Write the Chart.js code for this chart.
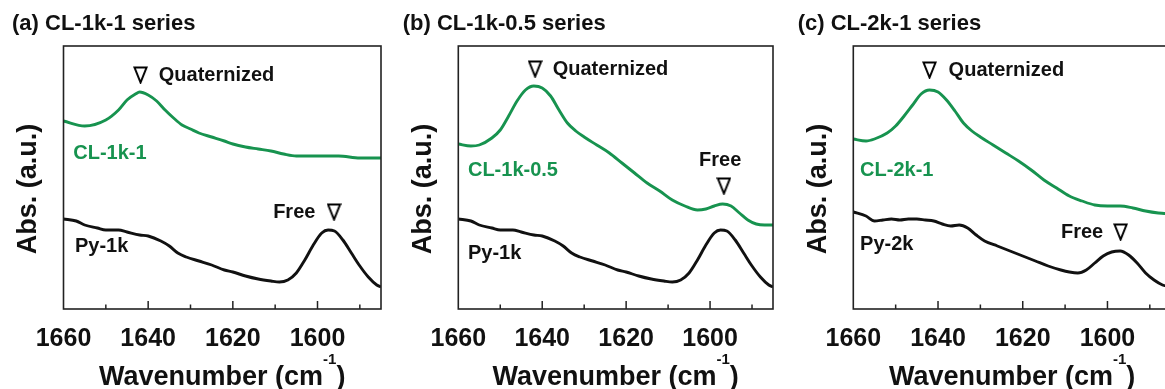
<!DOCTYPE html>
<html>
<head>
<meta charset="utf-8">
<script src="https://cdn.jsdelivr.net/npm/chart.js@4.4.1/dist/chart.umd.min.js"></script>
<style>
  html, body { margin: 0; padding: 0; background: #fff; }
  body { width: 1165px; height: 389px; overflow: hidden; position: relative; }
  canvas { position: absolute; top: 0; }
</style>
</head>
<body>
<canvas id="panelA" width="390" height="389" style="left:0px"></canvas>
<canvas id="panelB" width="392" height="389" style="left:390px"></canvas>
<canvas id="panelC" width="400" height="389" style="left:780px"></canvas>
<script>
// wavenumber ticks (cm-1); labelled every 20
const tickValues = [1660, 1650, 1640, 1630, 1620, 1610, 1600, 1590];

// Py-1k (shared by panels a and b)
const wnPy1k = [1660, 1657, 1655, 1652, 1650, 1647, 1645, 1642, 1640, 1637, 1635, 1633, 1631, 1628, 1625, 1622, 1620, 1617, 1614, 1611, 1609, 1607, 1605, 1603, 1601, 1599, 1597.5, 1596, 1594, 1592, 1590, 1588, 1586, 1585];
const absPy1k = [0.90, 0.88, 0.84, 0.81, 0.79, 0.79, 0.77, 0.74, 0.73, 0.68, 0.63, 0.56, 0.52, 0.48, 0.44, 0.39, 0.37, 0.33, 0.30, 0.28, 0.27, 0.29, 0.36, 0.49, 0.64, 0.76, 0.79, 0.78, 0.69, 0.56, 0.43, 0.32, 0.24, 0.22];

// CL-1k-1
const wnCL1k1 = [1660, 1655, 1650, 1647, 1645, 1643, 1642, 1640, 1638, 1636, 1634, 1632, 1630, 1628, 1625, 1622, 1620, 1617, 1614, 1611, 1608, 1605, 1600, 1595, 1590, 1585];
const absCL1k1 = [1.88, 1.83, 1.89, 1.99, 2.09, 2.15, 2.17, 2.14, 2.08, 1.99, 1.91, 1.84, 1.80, 1.76, 1.72, 1.68, 1.65, 1.62, 1.60, 1.58, 1.55, 1.53, 1.53, 1.53, 1.51, 1.51];

// CL-1k-0.5
const wnCL1k05 = [1660, 1657, 1655, 1652, 1650, 1648, 1646, 1644, 1642, 1640, 1638, 1636, 1634, 1632, 1630, 1627, 1624, 1621, 1618, 1615, 1612, 1609, 1606, 1603, 1601, 1599, 1597, 1595, 1593, 1591, 1589, 1587, 1585];
const absCL1k05 = [1.65, 1.63, 1.64, 1.71, 1.79, 1.93, 2.08, 2.19, 2.23, 2.21, 2.13, 1.99, 1.86, 1.78, 1.72, 1.64, 1.56, 1.46, 1.36, 1.26, 1.18, 1.09, 1.03, 0.99, 1.00, 1.03, 1.05, 1.03, 0.96, 0.89, 0.85, 0.84, 0.84];

// CL-2k-1
const wnCL2k1 = [1660, 1657, 1655, 1652, 1650, 1648, 1646, 1644, 1642, 1640, 1638, 1636, 1634, 1632, 1630, 1627, 1624, 1621, 1618, 1615, 1612, 1609, 1606, 1603, 1600, 1597, 1594, 1591, 1588, 1585];
const absCL2k1 = [1.70, 1.68, 1.70, 1.76, 1.83, 1.93, 2.04, 2.15, 2.19, 2.17, 2.09, 1.98, 1.86, 1.78, 1.72, 1.64, 1.56, 1.48, 1.39, 1.29, 1.21, 1.13, 1.08, 1.04, 1.03, 1.03, 1.01, 0.98, 0.96, 0.95];

// Py-2k
const wnPy2k = [1660, 1657, 1655, 1653, 1651, 1649, 1647, 1645, 1643, 1641, 1639, 1637, 1635, 1633, 1631, 1629, 1626, 1623, 1620, 1617, 1614, 1611, 1609, 1607, 1605, 1603, 1601, 1599, 1597, 1595, 1593, 1591, 1589, 1587, 1585];
const absPy2k = [0.97, 0.93, 0.88, 0.89, 0.90, 0.89, 0.90, 0.90, 0.89, 0.88, 0.85, 0.83, 0.84, 0.81, 0.74, 0.68, 0.63, 0.58, 0.53, 0.48, 0.43, 0.39, 0.37, 0.36, 0.39, 0.46, 0.53, 0.57, 0.58, 0.54, 0.46, 0.36, 0.29, 0.24, 0.22];

// peak markers (open down triangles)
const markersA = [{ x: 1641.8, y: 2.34 }, { x: 1596.1, y: 0.97 }];
const markersB = [{ x: 1641.7, y: 2.40 }, { x: 1596.7, y: 1.23 }];
const markersC = [{ x: 1642.0, y: 2.39 }, { x: 1596.9, y: 0.77 }];

const GREEN = "#17934f";
const FONT = '"Liberation Sans", Arial, Helvetica, sans-serif';

function pairs(xs, ys) {
  return xs.map((x, i) => ({ x: x, y: ys[i] }));
}

// nabla-like marker sprite
function makeTriangle() {
  const c = document.createElement("canvas");
  c.width = 15;
  c.height = 18;
  const g = c.getContext("2d");
  g.lineWidth = 2;
  g.lineJoin = "miter";
  g.strokeStyle = "#000";
  g.beginPath();
  g.moveTo(1.5, 1.5);
  g.lineTo(13.5, 1.5);
  g.lineTo(7.5, 16.5);
  g.closePath();
  g.stroke();
  return c;
}
const tri = makeTriangle();

const decor = {
  id: "decor",
  afterDatasetsDraw(chart, args, opts) {
    const { ctx, chartArea: a, scales } = chart;
    const x = scales.x;
    const y = scales.y;
    ctx.save();

    // frame
    ctx.strokeStyle = "#222";
    ctx.lineWidth = 1.6;
    ctx.strokeRect(a.left, a.top, a.right - a.left, a.bottom - a.top);

    // inward ticks
    ctx.lineWidth = 1.5;
    x.ticks.forEach((t) => {
      if (t.value === x.min || t.value === x.max) return;
      const px = x.getPixelForValue(t.value);
      const len = t.value % 20 === 0 ? 8 : 4.5;
      ctx.beginPath();
      ctx.moveTo(px, a.bottom);
      ctx.lineTo(px, a.bottom - len);
      ctx.stroke();
    });

    // annotations
    ctx.font = "bold 20px " + FONT;
    ctx.textBaseline = "middle";
    opts.labels.forEach((l) => {
      ctx.fillStyle = l.color || "#111";
      ctx.textAlign = l.align || "left";
      ctx.fillText(l.text, x.getPixelForValue(l.x), y.getPixelForValue(l.y));
    });

    // y title
    ctx.save();
    ctx.translate(a.left - 35, 189);
    ctx.rotate(-Math.PI / 2);
    ctx.font = "bold 27px " + FONT;
    ctx.fillStyle = "#111";
    ctx.textAlign = "center";
    ctx.textBaseline = "middle";
    ctx.fillText("Abs. (a.u.)", 0, 0);
    ctx.restore();

    // x title with superscript
    const cx = (a.left + a.right) / 2;
    const main = "bold 27px " + FONT;
    const sup = "bold 15px " + FONT;
    ctx.fillStyle = "#111";
    ctx.textAlign = "left";
    ctx.textBaseline = "alphabetic";
    ctx.font = main;
    const w1 = ctx.measureText("Wavenumber (cm").width;
    const w3 = ctx.measureText(")").width;
    ctx.font = sup;
    const w2 = ctx.measureText("-1").width;
    let sx = cx - (w1 + w2 + w3) / 2;
    ctx.font = main;
    ctx.fillText("Wavenumber (cm", sx, 385);
    ctx.font = sup;
    ctx.fillText("-1", sx + w1, 364);
    ctx.font = main;
    ctx.fillText(")", sx + w1 + w2, 385);

    ctx.restore();
  },
};

function makePanel(id, title, series, markers, labels, padL, yWidth, padR) {
  const datasets = series.map((s) => ({
    data: s.data,
    borderColor: s.color,
    borderWidth: 2.9,
    pointRadius: 0,
    fill: false,
    cubicInterpolationMode: "monotone",
  }));
  datasets.push({
    data: markers,
    showLine: false,
    pointStyle: tri,
    pointRadius: 8,
  });

  new Chart(document.getElementById(id), {
    type: "line",
    data: { datasets: datasets },
    plugins: [decor],
    options: {
      responsive: false,
      animation: false,
      events: [],
      layout: { padding: { left: padL, right: padR, top: 0, bottom: 0 } },
      plugins: {
        legend: { display: false },
        tooltip: { enabled: false },
        title: {
          display: true,
          text: title,
          align: "start",
          color: "#111",
          font: { family: FONT, size: 22, weight: "bold", lineHeight: 1.2 },
          padding: { top: 11, bottom: 8.6 },
        },
        decor: { labels: labels },
      },
      scales: {
        x: {
          type: "linear",
          reverse: true,
          min: 1585,
          max: 1660,
          grid: { display: false },
          border: { display: false },
          afterBuildTicks: (s) => {
            s.ticks = tickValues.map((v) => ({ value: v }));
          },
          afterFit: (s) => {
            s.height = 80;
          },
          ticks: {
            autoSkip: false,
            maxRotation: 0,
            padding: 7,
            color: "#111",
            font: { family: FONT, size: 25, weight: "bold" },
            callback: (v) => (v % 20 === 0 ? String(v) : ""),
          },
        },
        y: {
          min: 0,
          max: 2.63,
          grid: { display: false },
          border: { display: false },
          ticks: { display: false },
          afterFit: (s) => {
            s.width = yWidth;
          },
        },
      },
    },
  });
}

makePanel(
  "panelA",
  "(a) CL-1k-1 series",
  [
    { data: pairs(wnCL1k1, absCL1k1), color: GREEN },
    { data: pairs(wnPy1k, absPy1k), color: "#111" },
  ],
  markersA,
  [
    { text: "Quaternized", x: 1637.5, y: 2.34 },
    { text: "Free", x: 1600.5, y: 0.97, align: "right" },
    { text: "CL-1k-1", x: 1657.7, y: 1.56, color: GREEN },
    { text: "Py-1k", x: 1657.3, y: 0.626 },
  ],
  12, 51.5, 4
);

makePanel(
  "panelB",
  "(b) CL-1k-0.5 series",
  [
    { data: pairs(wnCL1k05, absCL1k05), color: GREEN },
    { data: pairs(wnPy1k, absPy1k), color: "#111" },
  ],
  markersB,
  [
    { text: "Quaternized", x: 1637.5, y: 2.40 },
    { text: "Free", x: 1597.6, y: 1.49, align: "center" },
    { text: "CL-1k-0.5", x: 1657.7, y: 1.39, color: GREEN },
    { text: "Py-1k", x: 1657.7, y: 0.56 },
  ],
  12.7, 55.6, 2
);

makePanel(
  "panelC",
  "(c) CL-2k-1 series",
  [
    { data: pairs(wnCL2k1, absCL2k1), color: GREEN },
    { data: pairs(wnPy2k, absPy2k), color: "#111" },
  ],
  markersC,
  [
    { text: "Quaternized", x: 1637.5, y: 2.39 },
    { text: "Free", x: 1601, y: 0.77, align: "right" },
    { text: "CL-2k-1", x: 1658.4, y: 1.39, color: GREEN },
    { text: "Py-2k", x: 1658.4, y: 0.65 },
  ],
  17.7, 55.6, 4.2
);
</script>
</body>
</html>
